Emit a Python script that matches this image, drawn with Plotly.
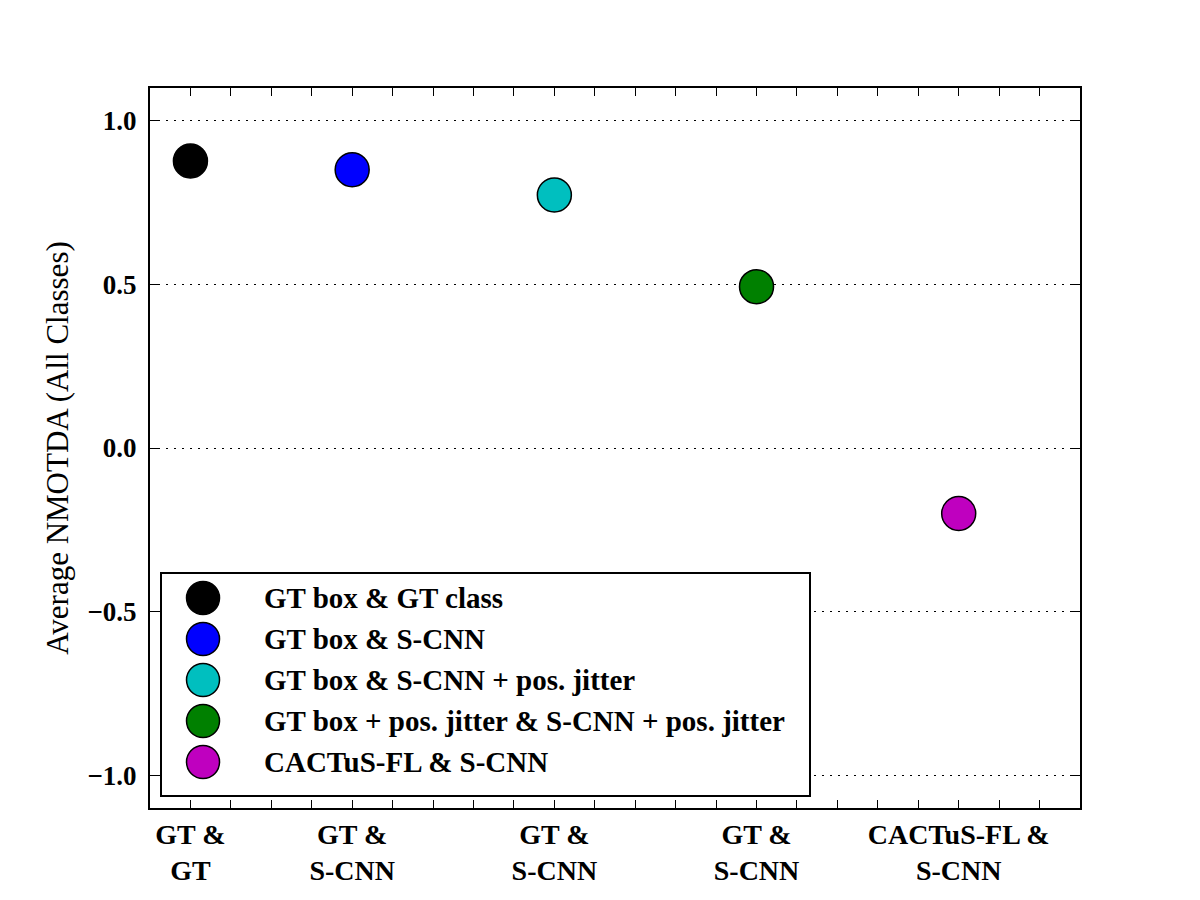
import plotly.graph_objects as go

# ---- data ----
series_names = [
    "GT box &amp; GT class",
    "GT box &amp; S-CNN",
    "GT box &amp; S-CNN + pos. jitter",
    "GT box + pos. jitter &amp; S-CNN + pos. jitter",
    "CACTuS-FL &amp; S-CNN",
]
x_positions = [0.0, 0.8, 1.8, 2.8, 3.8]
nmotda_values = [0.877, 0.850, 0.773, 0.493, -0.200]
marker_colors = ["#000000", "#0000ff", "#00bfbf", "#008000", "#bf00bf"]
tick_labels = ["GT &amp;<br>GT", "GT &amp;<br>S-CNN", "GT &amp;<br>S-CNN",
               "GT &amp;<br>S-CNN", "CACTuS-FL &amp;<br>S-CNN"]
minor_tick_vals = [round(0.2 * i, 1) for i in range(0, 22)]
y_tick_vals = [-1.0, -0.5, 0.0, 0.5, 1.0]

FONT = "Liberation Serif"

fig = go.Figure()

for name, xv, yv, col in zip(series_names, x_positions, nmotda_values, marker_colors):
    fig.add_trace(go.Scatter(
        x=[xv], y=[yv], mode="markers", name=name, showlegend=False,
        marker=dict(size=34, color=col, line=dict(color="black", width=1.5)),
        xaxis="x", yaxis="y",
    ))

# manual legend drawn on its own small axis pair (boxed, opaque)
for i, (name, col) in enumerate(zip(series_names, marker_colors)):
    fig.add_trace(go.Scatter(
        x=[0.0634], y=[i], mode="markers", showlegend=False, hoverinfo="skip",
        marker=dict(size=33, color=col, line=dict(color="black", width=1.5)),
        xaxis="x2", yaxis="y2",
    ))
    fig.add_annotation(
        x=0.1546, y=i, xref="x2", yref="y2", text="<b>" + name + "</b>",
        showarrow=False, xanchor="left", yanchor="middle",
        font=dict(family=FONT, size=29, color="black"),
    )

# tick values/text: ticks every 0.2, labels at the series positions
tickvals = []
ticktext = []
for v in minor_tick_vals:
    tickvals.append(v)
    lab = ""
    for xp, tl in zip(x_positions, tick_labels):
        if abs(xp - v) < 1e-6:
            lab = "<b>" + tl + "</b>"
    ticktext.append(lab)

y_ticktext = ["<b>" + ("\u2212" if v < 0 else "") + f"{abs(v):.1f}" + "</b>" for v in y_tick_vals]

fig.update_layout(
    width=1200, height=900,
    margin=dict(l=150, r=120, t=88, b=92),
    paper_bgcolor="white", plot_bgcolor="white",
    font=dict(family=FONT, color="black"),
    showlegend=False,
    xaxis=dict(
        range=[-0.2, 4.4], tickmode="array", tickvals=tickvals, ticktext=ticktext,
        ticks="inside", ticklen=8, tickwidth=1, tickcolor="black",
        showline=True, linecolor="black", linewidth=2, mirror="ticks",
        showgrid=False, zeroline=False,
        tickfont=dict(family=FONT, size=28, color="black"),
        ticklabelstandoff=0,
    ),
    yaxis=dict(
        range=[-1.1, 1.1], tickmode="array", tickvals=y_tick_vals,
        ticktext=y_ticktext,
        ticks="inside", ticklen=8, tickwidth=1, tickcolor="black",
        showline=True, linecolor="black", linewidth=2, mirror="ticks",
        showgrid=True, gridcolor="black", gridwidth=1, griddash="2px,6px",
        zeroline=False,
        tickfont=dict(family=FONT, size=27, color="black"),
        ticklabelstandoff=6,
        title=dict(text="Average NMOTDA (All Classes)", standoff=10,
                   font=dict(family=FONT, size=31, color="black")),
    ),
    xaxis2=dict(
        domain=[(162 - 150) / 930, (809 - 150) / 930], range=[0, 1],
        anchor="y2", fixedrange=True,
        showline=True, mirror=True, linecolor="black", linewidth=2,
        showticklabels=False, ticks="", showgrid=False, zeroline=False,
    ),
    yaxis2=dict(
        domain=[(808 - 795) / 720, (808 - 574) / 720], range=[4.805, -0.585],
        anchor="x2", fixedrange=True,
        showline=True, mirror=True, linecolor="black", linewidth=2,
        showticklabels=False, ticks="", showgrid=False, zeroline=False,
    ),
)

fig.write_html("out.html")
